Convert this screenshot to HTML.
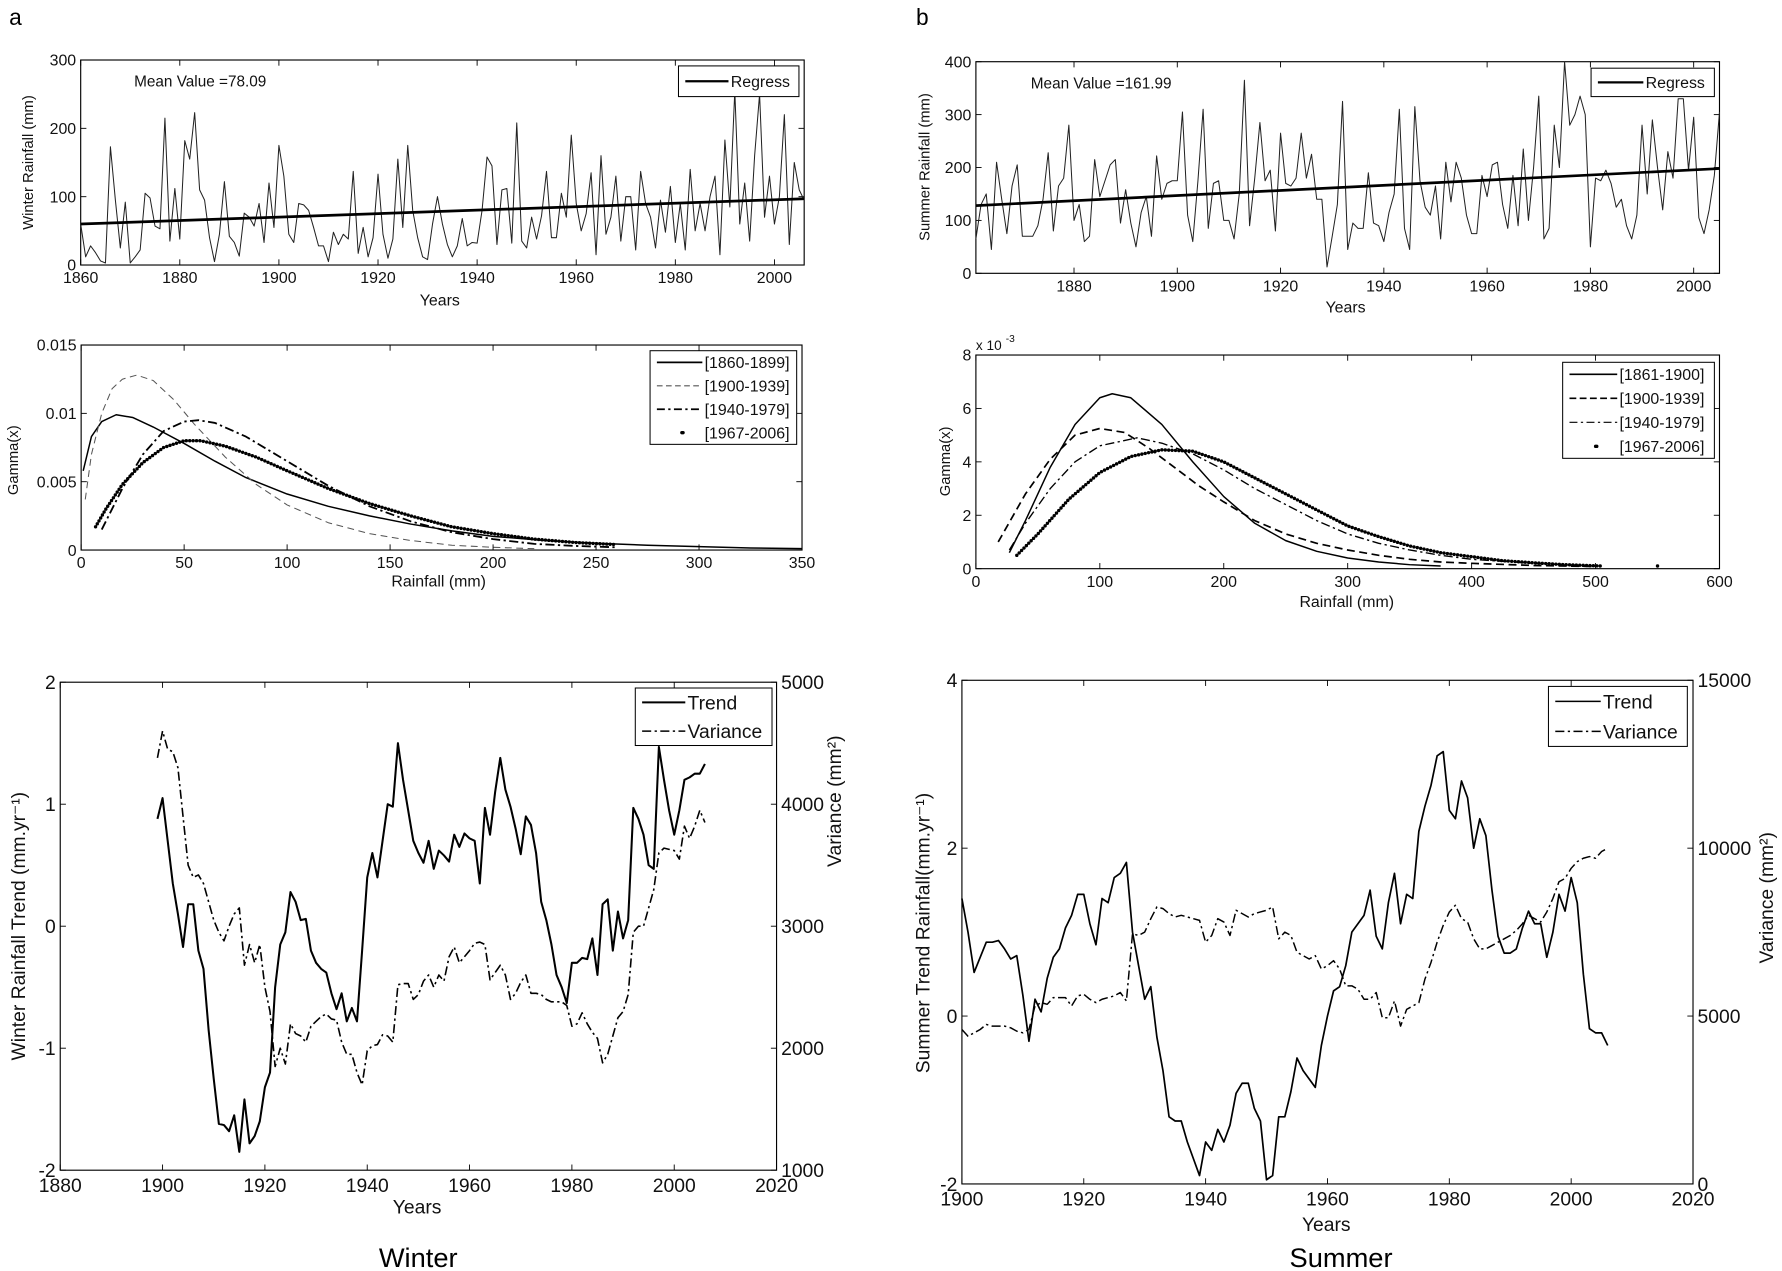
<!DOCTYPE html>
<html><head><meta charset="utf-8"><style>
html,body{margin:0;padding:0;background:#fff;}
svg{display:block;font-family:"Liberation Sans",Arial,sans-serif;}
</style></head><body>
<svg id="fig" width="1782" height="1271" viewBox="0 0 1568 1118.4" preserveAspectRatio="none" xmlns="http://www.w3.org/2000/svg">
<rect width="1568" height="1118.4" fill="#fff"/>
<text x="8" y="22" font-size="20">a</text>
<text x="806" y="22" font-size="20">b</text>
<text x="368" y="1115" font-size="24" text-anchor="middle">Winter</text>
<text x="1180" y="1115" font-size="24" text-anchor="middle">Summer</text>
</svg>
<script>
// ---------- data ----------
const winterYears = [];
for (let y = 1860; y <= 2006; y++) winterYears.push(y);
const winterRain = [60,12,28,18,6,3,173,95,25,92,3,12,22,105,98,57,53,215,35,112,38,182,155,223,110,95,40,5,45,122,42,33,13,76,70,57,90,33,120,55,175,130,45,33,90,88,80,55,28,28,5,48,30,45,38,137,17,55,12,40,133,45,10,38,155,55,175,80,40,12,8,60,100,60,30,12,28,68,28,33,32,80,158,145,30,110,112,32,208,35,25,70,38,72,137,40,40,105,70,190,90,50,75,135,15,160,45,70,130,35,100,100,22,137,90,70,25,95,48,115,33,90,22,140,50,90,50,100,130,15,183,85,255,60,120,35,160,250,70,130,60,100,220,30,150,110,95];
const winterRegress = [60, 97];
const summerYears = [];
for (let y = 1861; y <= 2005; y++) summerYears.push(y);
const summerRain = [65,130,150,45,210,140,75,165,205,70,70,70,90,140,228,80,165,180,280,100,130,60,70,215,145,175,205,215,95,158,95,50,115,145,70,222,140,170,175,175,305,110,60,175,310,85,170,175,100,100,65,150,365,90,180,285,175,195,80,265,170,165,180,265,180,225,140,140,12,70,130,325,45,95,85,85,190,95,90,60,115,150,310,85,45,315,175,125,110,165,65,210,135,210,180,110,75,75,185,145,205,210,130,85,185,90,235,100,200,335,65,85,280,200,400,280,300,335,300,50,180,175,195,170,125,140,90,65,110,280,150,290,200,120,230,180,330,330,195,295,105,75,120,185,305];
const summerRegress = [128, 198];

const wG1x = [1,5,10,17,25,35,50,65,80,100,120,140,160,180,200,225,250,275,300,325,350];
const wG1y = [0.0058,0.0083,0.0094,0.0099,0.0097,0.0090,0.0078,0.0065,0.0053,0.0041,0.0032,0.0025,0.0019,0.0014,0.0010,0.0007,0.0005,0.00035,0.00025,0.00015,0.0001];
const wG2x = [2,5,10,15,20,27,35,45,55,70,85,100,120,140,160,180,200,220];
const wG2y = [0.0037,0.0070,0.0100,0.0118,0.0125,0.0128,0.0124,0.0110,0.0092,0.0068,0.0048,0.0033,0.0020,0.0012,0.0007,0.00035,0.0002,0.0001];
const wG3x = [10,15,20,30,40,50,57,65,80,100,120,140,160,180,200,220,240,260];
const wG3y = [0.0015,0.0030,0.0045,0.0070,0.0087,0.0094,0.0095,0.0093,0.0083,0.0065,0.0047,0.0032,0.0021,0.0013,0.0008,0.00045,0.0003,0.0002];
const wG4x = [7,12,20,30,40,50,58,70,85,100,120,140,160,180,200,220,240,260];
const wG4y = [0.0017,0.0030,0.0048,0.0064,0.0075,0.0080,0.0080,0.0076,0.0068,0.0058,0.0045,0.0034,0.0025,0.0017,0.0012,0.0008,0.00055,0.0004];

const sG1x = [27,40,60,80,100,110,125,150,175,200,225,250,275,300,325,350,375];
const sG1y = [0.6,1.8,3.8,5.4,6.4,6.55,6.4,5.4,4.0,2.7,1.7,1.05,0.65,0.4,0.25,0.15,0.1];
const sG2x = [18,40,60,80,100,120,140,160,180,200,225,250,275,300,325,350,375,400,450,500];
const sG2y = [1.0,2.8,4.1,5.0,5.25,5.1,4.5,3.8,3.1,2.5,1.8,1.3,0.95,0.7,0.5,0.35,0.25,0.2,0.12,0.08];
const sG3x = [27,40,60,80,100,130,150,175,200,225,250,275,300,325,350,375,400,450,500];
const sG3y = [0.7,1.7,3.0,4.0,4.6,4.9,4.7,4.3,3.7,3.0,2.4,1.8,1.3,0.95,0.7,0.5,0.35,0.2,0.1];
const sG4x = [33,50,75,100,125,150,175,200,225,250,275,300,325,350,375,400,425,450,475,505];
const sG4y = [0.5,1.3,2.6,3.6,4.2,4.45,4.4,4.0,3.4,2.8,2.2,1.6,1.2,0.85,0.6,0.45,0.3,0.22,0.15,0.1];
const sG4extraX = [550];
const sG4extraY = [0.1];

const trendYearsW = [];
for (let y = 1899; y <= 2006; y++) trendYearsW.push(y);
const winterTrend = [0.88,1.05,0.7,0.35,0.1,-0.17,0.18,0.18,-0.2,-0.35,-0.85,-1.25,-1.62,-1.63,-1.68,-1.55,-1.85,-1.42,-1.78,-1.72,-1.6,-1.32,-1.2,-0.5,-0.15,-0.05,0.28,0.2,0.05,0.06,-0.2,-0.3,-0.35,-0.38,-0.55,-0.68,-0.55,-0.78,-0.67,-0.78,-0.2,0.4,0.6,0.4,0.7,1.0,0.98,1.5,1.2,0.95,0.7,0.6,0.52,0.7,0.47,0.62,0.58,0.53,0.75,0.65,0.76,0.72,0.7,0.35,0.97,0.75,1.1,1.38,1.12,0.98,0.8,0.59,0.9,0.83,0.6,0.2,0.05,-0.15,-0.4,-0.5,-0.63,-0.3,-0.3,-0.26,-0.27,-0.1,-0.4,0.18,0.22,-0.2,0.12,-0.1,0.05,0.97,0.88,0.75,0.5,0.47,1.47,1.2,0.95,0.75,0.95,1.2,1.22,1.25,1.25,1.33];
const winterVar = [4380,4600,4450,4430,4300,3900,3500,3400,3420,3350,3200,3050,2950,2880,3000,3100,3150,2680,2850,2700,2850,2500,2300,1850,2000,1870,2200,2120,2100,2050,2180,2220,2260,2280,2240,2230,2050,1950,1950,1800,1700,1980,2020,2030,2110,2100,2050,2520,2530,2530,2400,2440,2550,2600,2500,2600,2550,2750,2830,2700,2750,2800,2860,2870,2850,2560,2620,2680,2600,2400,2450,2540,2600,2450,2450,2440,2400,2380,2380,2380,2350,2180,2200,2290,2200,2130,2080,1880,1950,2100,2250,2300,2440,2950,3000,3000,3150,3300,3600,3640,3630,3620,3550,3820,3720,3820,3950,3850];

const trendYearsS = [];
for (let y = 1900; y <= 2006; y++) trendYearsS.push(y);
const summerTrend = [1.4,1.0,0.52,0.7,0.88,0.88,0.9,0.8,0.68,0.72,0.25,-0.3,0.2,0.05,0.45,0.7,0.8,1.05,1.2,1.45,1.45,1.1,0.85,1.4,1.35,1.65,1.7,1.83,1.0,0.6,0.2,0.35,-0.25,-0.65,-1.2,-1.25,-1.25,-1.5,-1.7,-1.9,-1.5,-1.6,-1.35,-1.5,-1.3,-0.92,-0.8,-0.8,-1.1,-1.25,-1.95,-1.9,-1.2,-1.2,-0.9,-0.5,-0.65,-0.75,-0.85,-0.35,0.0,0.3,0.35,0.6,1.0,1.1,1.2,1.5,0.95,0.8,1.35,1.7,1.1,1.45,1.4,2.2,2.5,2.75,3.1,3.15,2.45,2.35,2.8,2.6,2.0,2.35,2.15,1.5,0.95,0.75,0.75,0.8,1.05,1.25,1.1,1.1,0.7,1.0,1.45,1.25,1.65,1.35,0.5,-0.15,-0.2,-0.2,-0.35];
const summerVar = [4600,4400,4500,4600,4750,4700,4700,4700,4650,4550,4500,4600,5300,5400,5350,5550,5550,5550,5300,5600,5650,5500,5400,5500,5550,5600,5700,5450,7450,7400,7500,7900,8250,8200,8050,7950,8000,7950,7900,7850,7200,7400,7900,7800,7400,8150,8050,7950,8050,8100,8150,8250,7300,7500,7400,6900,6800,6700,6800,6400,6500,6650,6400,5900,5900,5800,5500,5500,5700,4950,4950,5450,4700,5200,5300,5400,6100,6600,7200,7700,8100,8300,7900,7800,7300,7000,7000,7100,7200,7300,7400,7550,7750,8000,7900,7800,8100,8500,9000,9100,9400,9600,9700,9750,9700,9900,10000];

const p1XTicks = [1860,1880,1900,1920,1940,1960,1980,2000];
const p1YTicks = [0,100,200,300];
const p2XTicks = [1880,1900,1920,1940,1960,1980,2000];
const p2YTicks = [0,100,200,300,400];
const p3XTicks = [0,50,100,150,200,250,300,350];
const p3YTicks = [0,0.005,0.01,0.015];
const p3YLabels = ["0","0.005","0.01","0.015"];
const p4XTicks = [0,100,200,300,400,500,600];
const p4YTicks = [0,2,4,6,8];
const p5XTicks = [1880,1900,1920,1940,1960,1980,2000,2020];
const p5YTicks = [-2,-1,0,1,2];
const p5RTicks = [1000,2000,3000,4000,5000];
const p6XTicks = [1900,1920,1940,1960,1980,2000,2020];
const p6YTicks = [-2,0,2,4];
const p6RTicks = [0,5000,10000,15000];

// ---------- drawing ----------
const NS = "http://www.w3.org/2000/svg";
const svg = document.getElementById("fig");
function mk(tag, attrs, name, parent) {
  const el = document.createElementNS(NS, tag);
  for (const k in attrs) el.setAttribute(k, attrs[k]);
  
  
  (parent || svg).appendChild(el);
  return el;
}
function txt(x, y, s, size, name, anchor, rot) {
  const t = mk("text", {x: x, y: y, "font-size": size, "text-anchor": anchor || "middle", fill: "#111"}, name);
  if (rot) t.setAttribute("transform", "rotate(-90 " + x + " " + y + ")");
  t.textContent = s;
  return t;
}
function scale(d0, d1, r0, r1) { return v => r0 + (v - d0) / (d1 - d0) * (r1 - r0); }

function panel(cfg) {
  const g = mk("g", {}, cfg.name);
  const sx = scale(cfg.xd[0], cfg.xd[1], cfg.x0, cfg.x1);
  const sy = scale(cfg.yd[0], cfg.yd[1], cfg.y1, cfg.y0);
  const fs = cfg.fs;
  cfg.xt.forEach((v, i) => {
    const px = sx(v);
    mk("line", {x1: px, x2: px, y1: cfg.y1, y2: cfg.y1 - 5, stroke: "#000", "stroke-width": 0.8}, "x-tick", g);
    mk("line", {x1: px, x2: px, y1: cfg.y0, y2: cfg.y0 + 5, stroke: "#000", "stroke-width": 0.8}, "x-tick-top", g);
    txt(px, cfg.y1 + fs + 2, String(v), fs, "x-tick-label");
  });
  cfg.yt.forEach((v, i) => {
    const py = sy(v);
    mk("line", {x1: cfg.x0, x2: cfg.x0 + 5, y1: py, y2: py, stroke: "#000", "stroke-width": 0.8}, "y-tick", g);
    if (!cfg.rt) mk("line", {x1: cfg.x1, x2: cfg.x1 - 5, y1: py, y2: py, stroke: "#000", "stroke-width": 0.8}, "y-tick-right", g);
    txt(cfg.x0 - 4, py + fs * 0.36, cfg.yl ? cfg.yl[i] : String(v), fs, "y-tick-label", "end");
  });
  let sr = null;
  if (cfg.rt) {
    sr = scale(cfg.rd[0], cfg.rd[1], cfg.y1, cfg.y0);
    cfg.rt.forEach(v => {
      const py = sr(v);
      mk("line", {x1: cfg.x1, x2: cfg.x1 - 5, y1: py, y2: py, stroke: "#000", "stroke-width": 0.8}, "right-tick", g);
      txt(cfg.x1 + 4, py + fs * 0.36, String(v), fs, "right-tick-label", "start");
    });
  }
  mk("rect", {x: cfg.x0, y: cfg.y0, width: cfg.x1 - cfg.x0, height: cfg.y1 - cfg.y0, fill: "none", stroke: "#000", "stroke-width": 1}, "plot-frame", g);
  return {g, sx, sy, sr};
}
function line(p, xs, ys, sy, style, name) {
  let d = "";
  xs.forEach((x, i) => { d += (i ? "L" : "M") + p.sx(x).toFixed(2) + "," + sy(ys[i]).toFixed(2); });
  const a = Object.assign({d: d, fill: "none", stroke: "#000", "stroke-width": 1, "stroke-linejoin": "round"}, style);
  return mk("path", a, name, p.g);
}
function legend(x0, y0, x1, y1, items, fs, name) {
  const g = mk("g", {}, name);
  mk("rect", {x: x0, y: y0, width: x1 - x0, height: y1 - y0, fill: "#fff", stroke: "#000", "stroke-width": 0.9}, "legend-box", g);
  const h = (y1 - y0) / items.length;
  items.forEach((it, i) => {
    const cy = y0 + h * (i + 0.5);
    const a = Object.assign({x1: x0 + 6, x2: x0 + it.len, y1: cy, y2: cy, stroke: "#000", "stroke-width": 1}, it.style);
    mk("line", a, "legend-swatch", g);
    txt(x0 + it.len + 2, cy + fs * 0.36, it.label, fs, "legend-entry", "start");
  });
}

const p1 = panel({name: "winter-rainfall-chart", x0: 71, x1: 707.6, y0: 52.8, y1: 233.2, xd: [1860, 2006], yd: [0, 300], xt: p1XTicks, yt: p1YTicks, fs: 14});
line(p1, winterYears, winterRain, p1.sy, {"stroke-width": 0.9, stroke: "#222"}, "winter-rainfall-line");
line(p1, [1860, 2006], winterRegress, p1.sy, {"stroke-width": 2.4}, "winter-regress-line");
txt(118, 76, "Mean Value =78.09", 13.5, "winter-mean-label", "start");
txt(29, 143, "Winter Rainfall (mm)", 13, "winter-y-axis-title", "middle", true);
txt(387, 269, "Years", 14, "winter-x-axis-title");
legend(597, 58, 703, 85, [{label: "Regress", len: 44, style: {"stroke-width": 2}}], 14, "winter-legend");

const p2 = panel({name: "summer-rainfall-chart", x0: 858.7, x1: 1513, y0: 54.3, y1: 240.5, xd: [1861, 2005], yd: [0, 400], xt: p2XTicks, yt: p2YTicks, fs: 14});
line(p2, summerYears, summerRain, p2.sy, {"stroke-width": 0.9, stroke: "#222"}, "summer-rainfall-line");
line(p2, [1861, 2005], summerRegress, p2.sy, {"stroke-width": 2.4}, "summer-regress-line");
txt(907, 78, "Mean Value =161.99", 13.5, "summer-mean-label", "start");
txt(818, 147, "Summer Rainfall (mm)", 13, "summer-y-axis-title", "middle", true);
txt(1184, 275, "Years", 14, "summer-x-axis-title");
legend(1400, 60, 1508.5, 85, [{label: "Regress", len: 46, style: {"stroke-width": 2}}], 14, "summer-legend");

const p3 = panel({name: "winter-gamma-chart", x0: 71.4, x1: 705.7, y0: 303.6, y1: 484, xd: [0, 350], yd: [0, 0.015], xt: p3XTicks, yt: p3YTicks, yl: p3YLabels, fs: 14});
line(p3, wG1x, wG1y, p3.sy, {"stroke-width": 1.3}, "winter-gamma-1860-1899");
line(p3, wG2x, wG2y, p3.sy, {"stroke-width": 0.9, stroke: "#555", "stroke-dasharray": "6 4"}, "winter-gamma-1900-1939");
line(p3, wG3x, wG3y, p3.sy, {"stroke-width": 1.6, "stroke-dasharray": "8 3 2 3"}, "winter-gamma-1940-1979");
line(p3, wG4x, wG4y, p3.sy, {"stroke-width": 3, "stroke-dasharray": "0 3", "stroke-linecap": "round"}, "winter-gamma-1967-2006");
txt(16, 405, "Gamma(x)", 13, "winter-gamma-y-axis-title", "middle", true);
txt(386, 516, "Rainfall (mm)", 14, "winter-gamma-x-axis-title");
legend(572, 308.6, 701, 391, [
  {label: "[1860-1899]", len: 46, style: {"stroke-width": 1.5}},
  {label: "[1900-1939]", len: 46, style: {"stroke-dasharray": "5 3", stroke: "#555"}},
  {label: "[1940-1979]", len: 46, style: {"stroke-width": 1.5, "stroke-dasharray": "7 3 2 3"}},
  {label: "[1967-2006]", len: 46, style: {x1: 600, x2: 601, "stroke-width": 3, "stroke-linecap": "round"}}], 14, "winter-gamma-legend");

const p4 = panel({name: "summer-gamma-chart", x0: 858.7, x1: 1513, y0: 312.4, y1: 500.4, xd: [0, 600], yd: [0, 8], xt: p4XTicks, yt: p4YTicks, fs: 14});
line(p4, sG1x, sG1y, p4.sy, {"stroke-width": 1.3}, "summer-gamma-1861-1900");
line(p4, sG2x, sG2y, p4.sy, {"stroke-width": 1.5, "stroke-dasharray": "7 4"}, "summer-gamma-1900-1939");
line(p4, sG3x, sG3y, p4.sy, {"stroke-width": 1.2, "stroke-dasharray": "8 3 2 3"}, "summer-gamma-1940-1979");
line(p4, sG4x, sG4y, p4.sy, {"stroke-width": 3, "stroke-dasharray": "0 3", "stroke-linecap": "round"}, "summer-gamma-1967-2006");
sG4extraX.forEach((x, i) => {
  mk("circle", {cx: p4.sx(x), cy: p4.sy(sG4extraY[i]), r: 1.5, fill: "#000"}, "summer-gamma-dot", p4.g);
});
txt(858.7, 308, "x 10", 12, "summer-gamma-exponent", "start");
txt(885, 301, "-3", 9, "summer-gamma-exponent-power", "start");
txt(836, 406, "Gamma(x)", 13, "summer-gamma-y-axis-title", "middle", true);
txt(1185, 534, "Rainfall (mm)", 14, "summer-gamma-x-axis-title");
legend(1375, 318.8, 1508.5, 403.3, [
  {label: "[1861-1900]", len: 48, style: {"stroke-width": 1.5}},
  {label: "[1900-1939]", len: 48, style: {"stroke-width": 1.5, "stroke-dasharray": "6 3"}},
  {label: "[1940-1979]", len: 48, style: {"stroke-dasharray": "7 3 2 3"}},
  {label: "[1967-2006]", len: 48, style: {x1: 1404, x2: 1405, "stroke-width": 3, "stroke-linecap": "round"}}], 14, "summer-gamma-legend");

const p5 = panel({name: "winter-trend-chart", x0: 53, x1: 683.3, y0: 600.3, y1: 1029.7, xd: [1880, 2020], yd: [-2, 2], xt: p5XTicks, yt: p5YTicks, rt: p5RTicks, rd: [1000, 5000], fs: 17});
line(p5, trendYearsW, winterTrend, p5.sy, {"stroke-width": 1.8}, "winter-trend-line");
line(p5, trendYearsW, winterVar, p5.sr, {"stroke-width": 1.4, "stroke-dasharray": "8 3 2 3"}, "winter-variance-line");
txt(22, 815, "Winter Rainfall Trend (mm.yr\u207B\u00B9)", 17, "winter-trend-y-axis-title", "middle", true);
txt(740, 705, "Variance (mm²)", 17, "winter-variance-y-axis-title", "middle", true);
txt(367, 1068, "Years", 17, "winter-trend-x-axis-title");
legend(559, 605.4, 679.3, 656, [
  {label: "Trend", len: 44, style: {"stroke-width": 1.8}},
  {label: "Variance", len: 44, style: {"stroke-width": 1.4, "stroke-dasharray": "8 3 2 3"}}], 17, "winter-trend-legend");

const p6 = panel({name: "summer-trend-chart", x0: 846.4, x1: 1489.7, y0: 598.6, y1: 1041.8, xd: [1900, 2020], yd: [-2, 4], xt: p6XTicks, yt: p6YTicks, rt: p6RTicks, rd: [0, 15000], fs: 17});
line(p6, trendYearsS, summerTrend, p6.sy, {"stroke-width": 1.5}, "summer-trend-line");
line(p6, trendYearsS, summerVar, p6.sr, {"stroke-width": 1.3, "stroke-dasharray": "8 3 2 3"}, "summer-variance-line");
txt(818, 821, "Summer Trend Rainfall(mm.yr\u207B\u00B9)", 17, "summer-trend-y-axis-title", "middle", true);
txt(1560, 790, "Variance (mm²)", 17, "summer-variance-y-axis-title", "middle", true);
txt(1167, 1083, "Years", 17, "summer-trend-x-axis-title");
legend(1362.5, 604, 1484.7, 656.8, [
  {label: "Trend", len: 46, style: {"stroke-width": 1.3}},
  {label: "Variance", len: 46, style: {"stroke-width": 1.3, "stroke-dasharray": "8 3 2 3"}}], 17, "summer-trend-legend");
</script>
</body></html>
